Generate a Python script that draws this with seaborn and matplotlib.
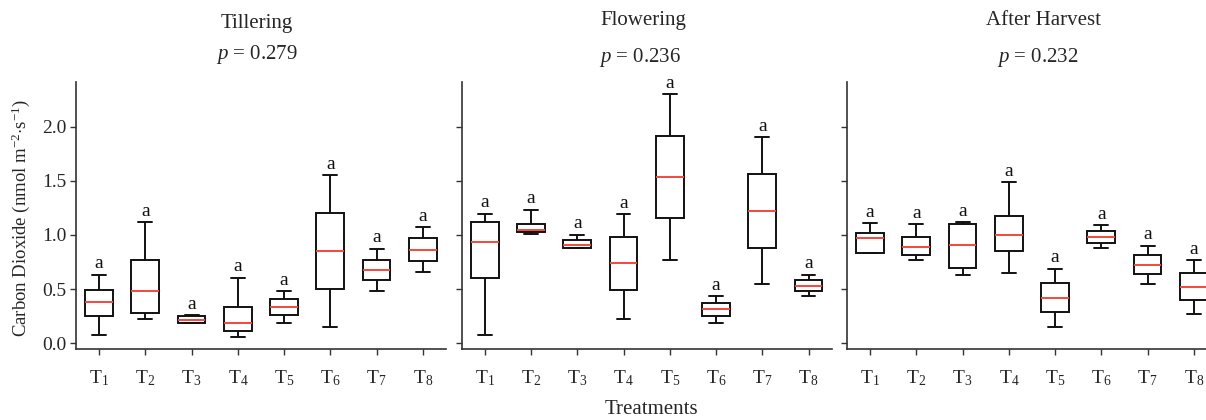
import numpy as np
import pandas as pd
import matplotlib
matplotlib.use("Agg")
import matplotlib.pyplot as plt
import seaborn as sns

# ---------------- data ----------------
treatments = ["T$_1$", "T$_2$", "T$_3$", "T$_4$", "T$_5$", "T$_6$", "T$_7$", "T$_8$"]
stages = ["Tillering", "Flowering", "After Harvest"]
p_values = ["0.279", "0.236", "0.232"]
letters = ["a", "a", "a", "a", "a", "a", "a", "a"]

# five values per treatment: min, q1, median, q3, max (nmol m-2 s-1)
tillering = [
    [0.074, 0.252, 0.378, 0.492, 0.634],
    [0.222, 0.283, 0.480, 0.769, 1.120],
    [0.185, 0.185, 0.215, 0.255, 0.260],
    [0.058, 0.117, 0.191, 0.338, 0.606],
    [0.191, 0.265, 0.338, 0.409, 0.483],
    [0.151, 0.502, 0.852, 1.203, 1.550],
    [0.483, 0.582, 0.677, 0.772, 0.874],
    [0.655, 0.757, 0.860, 0.968, 1.070],
]
flowering = [
    [0.074, 0.603, 0.938, 1.123, 1.197],
    [1.006, 1.025, 1.046, 1.100, 1.234],
    [0.877, 0.877, 0.911, 0.957, 1.003],
    [0.225, 0.492, 0.745, 0.978, 1.191],
    [0.769, 1.154, 1.535, 1.917, 2.300],
    [0.191, 0.252, 0.314, 0.372, 0.434],
    [0.545, 0.883, 1.222, 1.560, 1.900],
    [0.434, 0.483, 0.532, 0.585, 0.634],
]
after_harvest = [
    [0.831, 0.831, 0.972, 1.015, 1.111],
    [0.769, 0.812, 0.886, 0.978, 1.098],
    [0.631, 0.698, 0.911, 1.105, 1.120],
    [0.652, 0.852, 0.997, 1.178, 1.489],
    [0.154, 0.286, 0.422, 0.554, 0.689],
    [0.877, 0.929, 0.985, 1.040, 1.092],
    [0.548, 0.637, 0.726, 0.812, 0.902],
    [0.271, 0.397, 0.520, 0.646, 0.769],
]
stage_values = [tillering, flowering, after_harvest]

rows = []
for stage, vals in zip(stages, stage_values):
    for t, five in zip(treatments, vals):
        for v in five:
            rows.append({"stage": stage, "treatment": t, "value": v})
df = pd.DataFrame(rows)

# ---------------- style ----------------
sns.set_theme(style="ticks")
plt.rcParams["font.family"] = ["Liberation Serif", "DejaVu Serif"]
plt.rcParams["mathtext.fontset"] = "custom"
plt.rcParams["mathtext.rm"] = "Liberation Serif"
plt.rcParams["mathtext.it"] = "Liberation Serif:italic"
plt.rcParams["mathtext.bf"] = "Liberation Serif:bold"

fig = plt.figure(figsize=(12.06, 4.2), dpi=100)
lefts = [0.063, 0.3828, 0.7023]
bottom, width, height = 0.169, 0.3068, 0.6365

line_c = "#111111"
med_c = "#f5483b"

# (x of stage name, y of stage name, x of p, y of p) in figure fractions
title_pos = [(0.2131, 0.943, 0.2131, 0.871),
             (0.5332, 0.950, 0.5307, 0.862),
             (0.8650, 0.952, 0.8607, 0.864)]

for i, (stage, vals) in enumerate(zip(stages, stage_values)):
    ax = fig.add_axes([lefts[i], bottom, width, height])
    sub = df[df["stage"] == stage]
    sns.boxplot(data=sub, x="treatment", y="value", order=treatments, ax=ax,
                color="white", linecolor=line_c, linewidth=1.4, width=0.6,
                whis=(0, 100), showfliers=False,
                medianprops={"color": med_c, "linewidth": 1.4})
    ax.set_ylim(-0.053, 2.415)
    ax.set_xlim(-0.5, 7.5)
    ax.set_yticks([0.0, 0.5, 1.0, 1.5, 2.0])
    ax.set_xlabel("")
    ax.set_ylabel("")
    if i == 0:
        ax.set_yticklabels(["0.0", "0.5", "1.0", "1.5", "2.0"])
    else:
        ax.set_yticklabels([])
    ax.tick_params(axis="y", labelsize=14, length=4, width=1, color="#333333", pad=3)
    ax.tick_params(axis="x", labelsize=14, length=4, width=1, color="#333333", pad=10)
    for s in ["top", "right"]:
        ax.spines[s].set_visible(False)
    for s in ["left", "bottom"]:
        ax.spines[s].set_color("#333333")
        ax.spines[s].set_linewidth(1.2)
    # significance letters above the max whisker
    for j, (five, let) in enumerate(zip(vals, letters)):
        ax.text(j, max(five) + 0.02, let, ha="center", va="bottom", fontsize=14,
                color="#111111")
    tx1, ty1, tx2, ty2 = title_pos[i]
    fig.text(tx1, ty1, stage, ha="center", va="center", fontsize=15)
    fig.text(tx2, ty2, "$p$ = " + p_values[i], ha="center", va="center", fontsize=15)

fig.text(0.017, 0.481, "Carbon Dioxide (nmol m$^{-2}$$\\cdot$s$^{-1}$)", rotation=90,
         ha="center", va="center", fontsize=13.5)
fig.text(0.540, 0.025, "Treatments", ha="center", va="center", fontsize=15)

fig.savefig("out.png", dpi=100)
